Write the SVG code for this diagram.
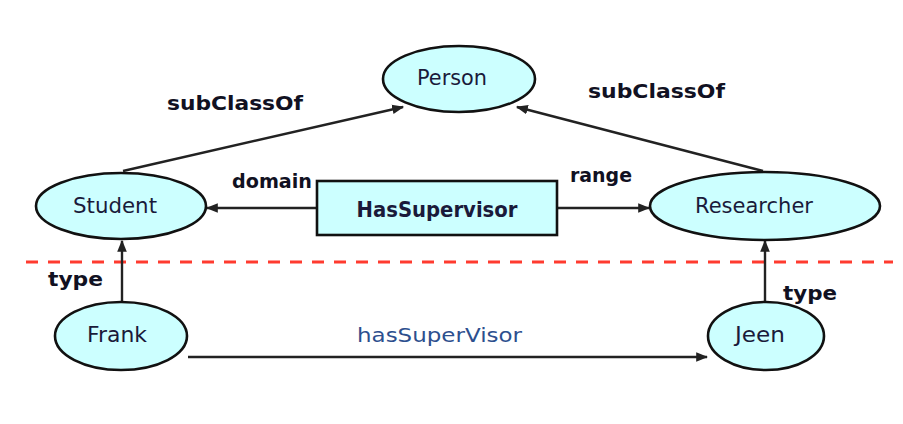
<svg xmlns="http://www.w3.org/2000/svg" width="903" height="424" viewBox="0 0 903 424">
<defs>
<marker id="arr" viewBox="0 0 10 10" refX="9" refY="5" markerWidth="5" markerHeight="5" orient="auto" markerUnits="strokeWidth">
<path d="M0,1 L10,5 L0,9 z" fill="#222"/>
</marker>
<style>
.node{fill:#ccffff;stroke:#111;stroke-width:2.6}
.nt{font-family:"DejaVu Sans","Liberation Sans",sans-serif;font-size:21px;fill:#1a1a3a;text-anchor:middle}
.lbl{font-family:"DejaVu Sans","Liberation Sans",sans-serif;font-size:20px;font-weight:bold;fill:#111122}
.edge{stroke:#222;stroke-width:2.4;fill:none;marker-end:url(#arr)}
</style>
</defs>
<rect width="903" height="424" fill="#fff"/>
<line x1="26" y1="262" x2="893" y2="262" stroke="#ff3b2f" stroke-width="3" stroke-dasharray="12,10"/>
<g id="connectors">
<line class="edge" x1="123" y1="171" x2="403" y2="107"/>
<line class="edge" x1="763" y1="171" x2="517" y2="107"/>
<line class="edge" x1="317" y1="208" x2="207" y2="208"/>
<line class="edge" x1="557" y1="208" x2="649" y2="208"/>
<line class="edge" x1="122" y1="302" x2="122" y2="241"/>
<line class="edge" x1="765" y1="302" x2="765" y2="241"/>
<line class="edge" x1="188" y1="357" x2="707" y2="357"/>
<text class="lbl" x="167" y="110" textLength="136" lengthAdjust="spacingAndGlyphs">subClassOf</text>
<text class="lbl" x="588" y="98" textLength="137" lengthAdjust="spacingAndGlyphs">subClassOf</text>
<text class="lbl" x="232" y="188" textLength="80" lengthAdjust="spacingAndGlyphs">domain</text>
<text class="lbl" x="570" y="182" textLength="62" lengthAdjust="spacingAndGlyphs">range</text>
<text class="lbl" x="48" y="286" textLength="55" lengthAdjust="spacingAndGlyphs">type</text>
<text class="lbl" x="783" y="300" textLength="54" lengthAdjust="spacingAndGlyphs">type</text>
<text x="357" y="342" font-family="'DejaVu Sans','Liberation Sans',sans-serif" font-size="20" fill="#2d4f8e" textLength="165" lengthAdjust="spacingAndGlyphs">hasSuperVisor</text>
</g>
<g id="person">
<ellipse class="node" cx="459" cy="79" rx="76" ry="33"/>
<text class="nt" x="452" y="85" textLength="70" lengthAdjust="spacingAndGlyphs">Person</text>
</g>
<g id="student">
<ellipse class="node" cx="121" cy="206" rx="85" ry="33"/>
<text class="nt" x="115" y="213" textLength="84" lengthAdjust="spacingAndGlyphs">Student</text>
</g>
<g id="hassupervisor">
<rect class="node" x="317" y="181" width="240" height="54"/>
<text class="nt" x="437" y="217" font-weight="bold" textLength="161" lengthAdjust="spacingAndGlyphs">HasSupervisor</text>
</g>
<g id="researcher">
<ellipse class="node" cx="765" cy="206" rx="115" ry="34"/>
<text class="nt" x="754" y="213" textLength="118" lengthAdjust="spacingAndGlyphs">Researcher</text>
</g>
<g id="frank">
<ellipse class="node" cx="121" cy="336" rx="66" ry="34"/>
<text class="nt" x="117" y="342" textLength="60" lengthAdjust="spacingAndGlyphs">Frank</text>
</g>
<g id="jeen">
<ellipse class="node" cx="766" cy="336" rx="58" ry="34"/>
<text class="nt" x="760" y="342" textLength="50" lengthAdjust="spacingAndGlyphs">Jeen</text>
</g>
</svg>
